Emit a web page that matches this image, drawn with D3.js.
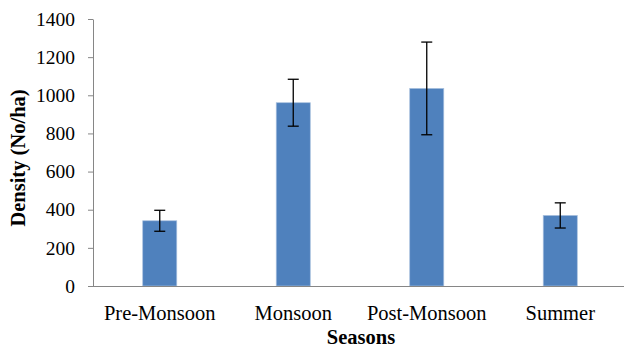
<!DOCTYPE html>
<html><head><meta charset="utf-8">
<script src="https://cdn.jsdelivr.net/npm/d3@7"></script>
<style>body{margin:0;background:#fff}svg{display:block}svg text{font-family:"Liberation Serif",serif !important}</style>
</head><body>
<script>
const categories = ["Pre-Monsoon","Monsoon","Post-Monsoon","Summer"];
const values = [342, 961, 1036, 370];
const errors = [55, 123, 243, 66];
const yTicks = [0,200,400,600,800,1000,1200,1400];

const W=624,H=349;
const svg=d3.select("body").append("svg").attr("width",W).attr("height",H);
const x=d3.scaleBand().domain(categories).range([93,627]).paddingInner(0.745).paddingOuter(0.3725);
const y=d3.scaleLinear().domain([0,1400]).range([286,19]);
const font="Liberation Serif";

svg.selectAll("rect.bar").data(categories).enter().append("rect")
 .attr("x",d=>x(d)).attr("width",x.bandwidth())
 .attr("y",(d,i)=>y(values[i])).attr("height",(d,i)=>y(0)-y(values[i]))
 .attr("fill","#4F81BD").attr("stroke","#A7C0DE").attr("stroke-width",0.7);

const yAxis=svg.append("g").attr("transform","translate(93,0)")
 .call(d3.axisLeft(y).tickValues(yTicks).tickFormat(d3.format("d")).tickSize(5).tickPadding(13).tickSizeOuter(0));
yAxis.attr("font-family",font).attr("font-size",19.5);
yAxis.select(".domain").attr("stroke","#868686");
yAxis.selectAll(".tick line").attr("stroke","#868686");
yAxis.selectAll("text").style("font-family",font).attr("font-size",19.5).attr("fill","#000");

const xAxis=svg.append("g").attr("transform","translate(0,286)")
 .call(d3.axisBottom(x).tickSize(0).tickPadding(19).tickSizeOuter(0));
xAxis.attr("font-family",font).attr("font-size",20.5);
xAxis.select(".domain").attr("stroke","#868686").attr("d","M88,0.5H627");
xAxis.selectAll("text").style("font-family",font).attr("font-size",20.5).attr("fill","#000");

const eb=svg.append("g").attr("stroke","#000").attr("stroke-width",1.3);
categories.forEach((c,i)=>{
  const cx=x(c)+x.bandwidth()/2;
  eb.append("line").attr("x1",cx).attr("x2",cx).attr("y1",y(values[i]+errors[i])).attr("y2",y(values[i]-errors[i]));
  [values[i]+errors[i],values[i]-errors[i]].forEach(v=>{
    eb.append("line").attr("x1",cx-5.5).attr("x2",cx+5.5).attr("y1",y(v)).attr("y2",y(v));
  });
});

svg.append("text").attr("x",361).attr("y",344).attr("text-anchor","middle")
 .style("font-family",font).attr("font-weight","bold").attr("font-size",20.5).text("Seasons");
svg.append("text").attr("transform","translate(25,158) rotate(-90)").attr("text-anchor","middle")
 .style("font-family",font).attr("font-weight","bold").attr("font-size",20.5).text("Density (No/ha)");
</script>
</body></html>
